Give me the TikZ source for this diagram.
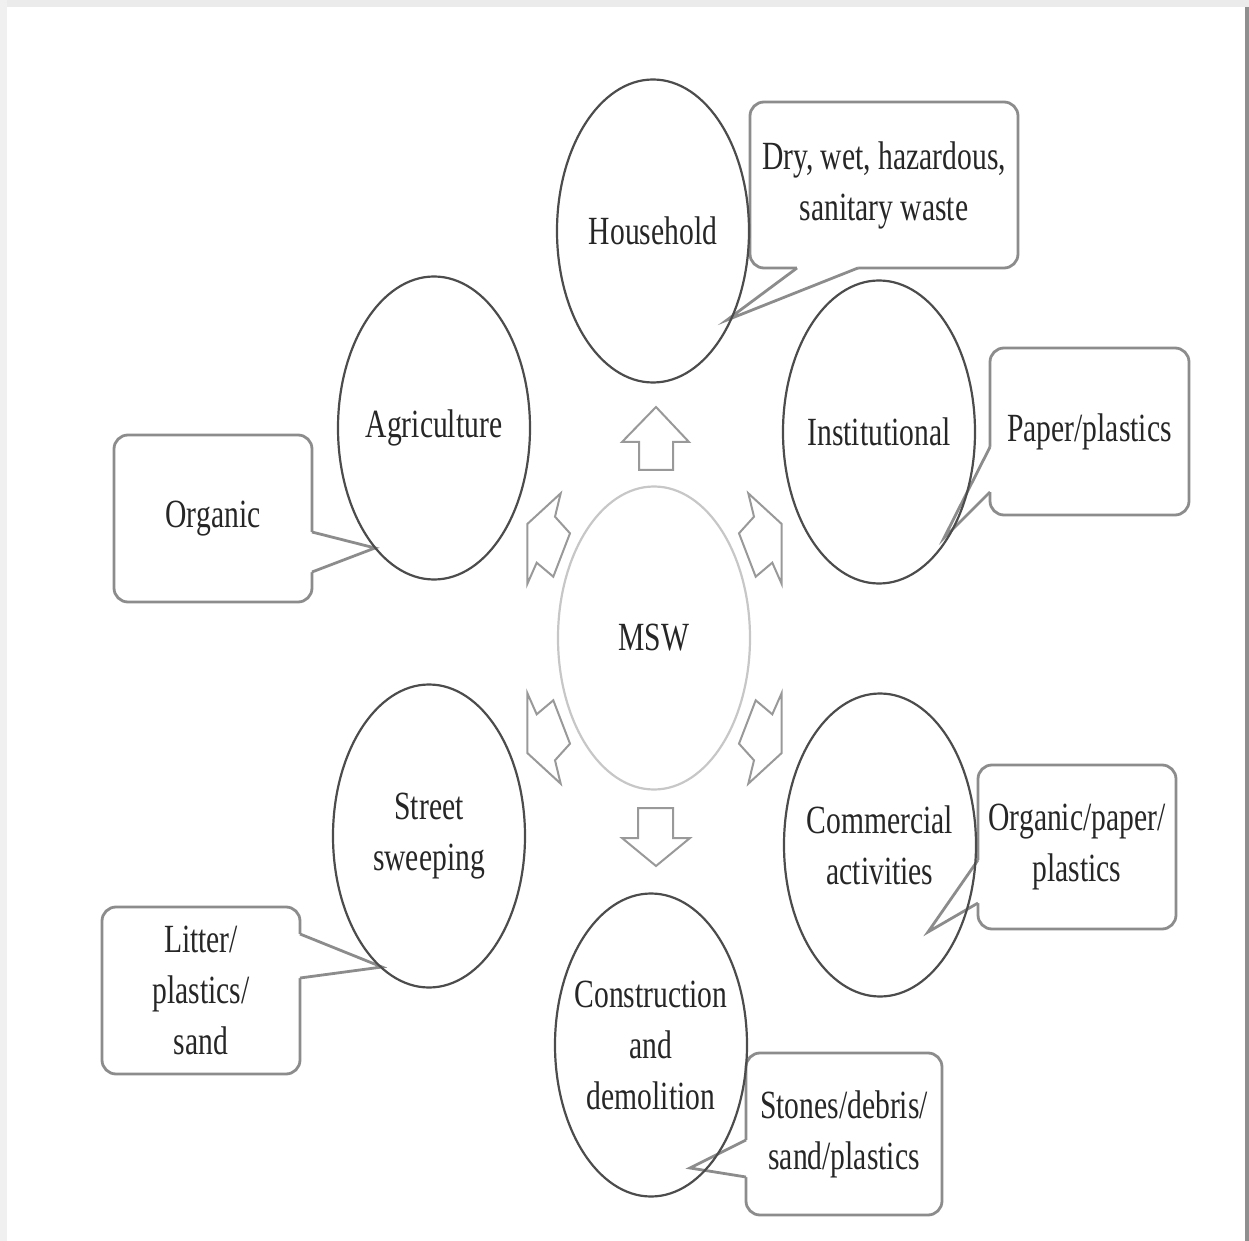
\documentclass[tikz,border=0pt]{standalone}
\usepackage{fontspec}
\usetikzlibrary{calc,shapes.geometric}
\newfontfamily\condserif[FakeStretch=0.74]{Liberation Serif}
\begin{document}
\begin{tikzpicture}[x=0.5pt,y=-0.5pt,
  txt/.style={font=\fontsize{20}{25.5}\condserif, text=black!85, align=center},
  source/.style={ellipse, draw=black!70, line width=1.1pt, minimum width=96pt,
    minimum height=151.5pt, inner sep=-25pt, outer sep=0pt, txt},
  hub/.style={source, draw=black!22},
  bubble/.style={rectangle, rounded corners=7pt, draw=black!45, line width=1.4pt,
    fill=white, inner sep=0pt, outer sep=0pt, txt},
  tail/.style={draw=black!45, line width=1.4pt, line join=miter},
  bigarrow/.style={draw=black!40, line width=1pt, fill=white, line join=miter}]

\useasboundingbox (0,0) rectangle (1249,1241);

% page frame
\fill[black!8] (0,0) rectangle (1249,7);
\fill[black!6] (0,0) rectangle (7,1241);
\fill[black!44] (1245,7) rectangle (1249,1241);

% ---- callouts ----
% household
\node[bubble, minimum width=134pt, minimum height=83pt] (c-hh) at (884,185) {Dry, wet, hazardous,\\sanitary waste};
\coordinate (tip-hh) at (727,320);
\fill[white] ($(c-hh.south west)+(47,-4)$) -- ($(c-hh.south west)+(47,0)$) -- (tip-hh)
  -- ($(c-hh.south west)+(108,0)$) -- ($(c-hh.south west)+(108,-4)$) -- cycle;
\draw[tail] ($(c-hh.south west)+(47,0)$) -- (tip-hh) -- ($(c-hh.south west)+(108,0)$);

% institutional
\node[bubble, minimum width=99.5pt, minimum height=83.5pt] (c-in) at (1089.5,431.5) {Paper/plastics};
\coordinate (tip-in) at (944,538);
\fill[white] ($(c-in.north west)+(4,99)$) -- ($(c-in.north west)+(0,99)$) -- (tip-in)
  -- ($(c-in.north west)+(0,144)$) -- ($(c-in.north west)+(4,144)$) -- cycle;
\draw[tail] ($(c-in.north west)+(0,99)$) -- (tip-in) -- ($(c-in.north west)+(0,144)$);

% agriculture
\node[bubble, minimum width=99pt, minimum height=83.5pt] (c-ag) at (213,518.5) {Organic};
\coordinate (tip-ag) at (375,548);
\fill[white] ($(c-ag.north east)+(-4,97)$) -- ($(c-ag.north east)+(0,97)$) -- (tip-ag)
  -- ($(c-ag.north east)+(0,137)$) -- ($(c-ag.north east)+(-4,137)$) -- cycle;
\draw[tail] ($(c-ag.north east)+(0,97)$) -- (tip-ag) -- ($(c-ag.north east)+(0,137)$);

% commercial
\node[bubble, minimum width=99pt, minimum height=82pt] (c-cm) at (1077,847) {Organic/paper/\\plastics};
\coordinate (tip-cm) at (928,932);
\fill[white] ($(c-cm.north west)+(4,95)$) -- ($(c-cm.north west)+(0,95)$) -- (tip-cm)
  -- ($(c-cm.north west)+(0,138)$) -- ($(c-cm.north west)+(4,138)$) -- cycle;
\draw[tail] ($(c-cm.north west)+(0,95)$) -- (tip-cm) -- ($(c-cm.north west)+(0,138)$);

% street sweeping
\node[bubble, minimum width=99pt, minimum height=83.5pt] (c-ss) at (201,990.5) {Litter/\\plastics/\\sand};
\coordinate (tip-ss) at (382,967);
\fill[white] ($(c-ss.north east)+(-4,27)$) -- ($(c-ss.north east)+(0,27)$) -- (tip-ss)
  -- ($(c-ss.north east)+(0,71)$) -- ($(c-ss.north east)+(-4,71)$) -- cycle;
\draw[tail] ($(c-ss.north east)+(0,27)$) -- (tip-ss) -- ($(c-ss.north east)+(0,71)$);

% construction
\node[bubble, minimum width=98pt, minimum height=81pt] (c-cd) at (844,1134) {Stones/debris/\\sand/plastics};
\coordinate (tip-cd) at (690,1168);
\fill[white] ($(c-cd.north west)+(4,87)$) -- ($(c-cd.north west)+(0,87)$) -- (tip-cd)
  -- ($(c-cd.north west)+(0,124)$) -- ($(c-cd.north west)+(4,124)$) -- cycle;
\draw[tail] ($(c-cd.north west)+(0,87)$) -- (tip-cd) -- ($(c-cd.north west)+(0,124)$);

% ---- block arrows around the hub ----
\draw[bigarrow] (656,407) -- (689,442) -- (673,442) -- (673,470) -- (639,470)
  -- (639,442) -- (622,442) -- cycle;
\draw[bigarrow] (656,866) -- (690,838) -- (673,838) -- (673,808) -- (638,808)
  -- (638,838) -- (622,838) -- cycle;
\foreach \sx/\sy in {1/1,-1/1,1/-1,-1/-1}
  \draw[bigarrow, shift={(654.5,638.5)}, xscale=\sx, yscale=\sy]
    (-127.2,-114.5) -- (-127.2,-54.5) -- (-117.8,-75.8) -- (-101.2,-61.8)
    -- (-84.5,-105.2) -- (-99.5,-121.8) -- (-93.8,-145.2) -- cycle;

% ---- sources ----
\node[hub] (msw) at (654,638) {MSW};
\node[source] (e-hh) at (653,231) {Household};
\node[source] (e-ag) at (434,428) {Agriculture};
\node[source] (e-in) at (879,432) {Institutional};
\node[source] (e-ss) at (429,836) {Street\\sweeping};
\node[source] (e-cm) at (880,845) {Commercial\\activities};
\node[source] (e-cd) at (651,1045) {Construction\\and\\demolition};
\end{tikzpicture}
\end{document}
